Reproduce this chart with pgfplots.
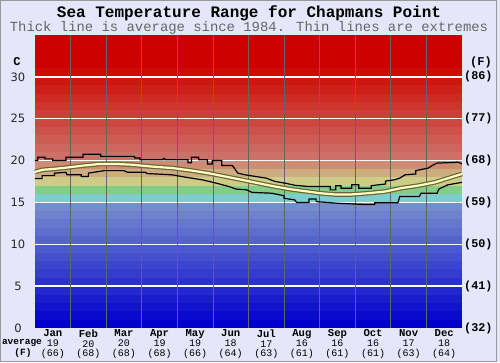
\documentclass[border=0pt]{standalone}
\usepackage{pgfplots}
\usepackage{pgfplotstable}
\pgfplotsset{compat=1.18}
\usepackage{fontspec}
\setmainfont{DejaVu Sans}
\newfontfamily\mono{Liberation Mono}
\definecolor{bgl}{RGB}{230,230,250}
\definecolor{avgedge}{RGB}{105,100,55}
\definecolor{avgfill}{RGB}{255,255,195}
\definecolor{monthln}{RGB}{100,100,100}

\pgfplotstableread{
x y
0 18.65
0.22 18.9
0.51 19.0
0.87 19.15
1.35 19.4
1.83 19.6
2.28 19.6
2.75 19.5
3.23 19.3
3.88 19.1
4.41 18.8
4.86 18.5
5.34 18.1
5.82 17.7
6.27 17.3
6.74 16.9
7.22 16.55
7.67 16.3
8.01 16.1
8.43 15.95
8.88 15.95
9.36 16.1
9.84 16.3
10.28 16.7
10.76 17.0
11.24 17.4
11.69 18.0
12 18.4
}\avgtable

\pgfplotstableread{
x y
0 20.0
0.08 20.0
0.08 20.4
0.28 20.4
0.28 20.2
0.5 20.2
0.5 20.0
0.87 20.0
0.87 20.4
1.35 20.4
1.35 20.75
1.85 20.75
1.85 20.5
2.8 20.5
2.8 20.3
2.95 20.3
2.95 20.1
3.6 20.1
3.6 20.25
3.65 20.25
3.65 20.1
4.3 20.1
4.3 19.75
4.4 19.75
4.4 20.4
4.6 20.4
4.6 20.1
4.85 20.1
4.85 19.6
4.98 19.6
4.98 20.0
5.25 20.0
5.25 19.4
5.55 19.4
5.7 18.5
5.9 18.3
6.2 18.1
6.5 17.9
6.75 17.5
7.03 17.3
7.3 17.05
7.7 16.9
8.3 16.9
8.3 16.5
8.45 16.5
8.45 17.0
8.6 17.0
8.6 16.7
8.9 16.7
8.9 17.1
9.1 17.1
9.1 16.7
9.45 16.7
9.45 17.0
9.85 17.2
9.85 17.55
10.1 17.7
10.25 17.9
10.4 18.3
10.7 18.4
10.7 18.8
11.05 19.1
11.2 19.5
11.3 19.7
11.9 19.8
12 19.6
}\maxtable

\pgfplotstableread{
x y
0 17.85
0.2 17.85
0.2 18.2
0.55 18.2
0.55 18.5
0.87 18.6
0.9 18.3
1.3 18.3
1.3 18.1
1.5 18.1
1.5 18.5
1.95 18.8
2.5 18.8
2.6 18.6
3.1 18.6
3.15 18.45
3.85 18.3
4.25 18.0
4.7 17.7
5.1 17.3
5.45 16.9
5.65 16.6
5.95 16.5
6.1 16.2
6.65 16.1
7.0 15.8
7.0 15.5
7.3 15.3
7.35 15.0
7.7 15.0
7.7 15.4
7.9 15.4
7.9 15.1
8.5 14.9
9.3 14.75
9.55 14.75
9.55 14.95
10.2 14.95
10.25 15.7
10.8 15.7
10.85 16.1
11.3 16.1
11.35 16.6
11.6 17.1
12 17.4
}\mintable

\newcommand{\ml}[3]{{\bfseries\fontsize{10.6}{9.7}\selectfont #1}\\#2\\(#3)}

\begin{document}
\begin{tikzpicture}[x=1pt,y=1pt]
\useasboundingbox (0,0) rectangle (500,362);
\fill[bgl] (0,0) rectangle (500,362);
\draw[gray!80,line width=0.8pt] (0.5,0.5) rectangle (496,361.5);
% colour bands, one per degree
\foreach \i in {0,...,34}{%
  \ifnum\i<15
    \pgfmathtruncatemacro{\rr}{8.5*\i}%
    \pgfmathtruncatemacro{\gg}{10*\i}%
    \pgfmathtruncatemacro{\bb}{205}%
  \else\ifnum\i=15
    \def\rr{125}\def\gg{205}\def\bb{205}%
  \else\ifnum\i=16
    \def\rr{130}\def\gg{205}\def\bb{135}%
  \else\ifnum\i=17
    \def\rr{205}\def\gg{205}\def\bb{135}%
  \else\ifnum\i=18
    \def\rr{205}\def\gg{172}\def\bb{128}%
  \else\ifnum\i=19
    \def\rr{205}\def\gg{140}\def\bb{115}%
  \else
    \pgfmathtruncatemacro{\rr}{205}%
    \pgfmathtruncatemacro{\gg}{max(0,112-10*(\i-20))}%
    \pgfmathtruncatemacro{\bb}{max(0,\gg-8)}%
  \fi\fi\fi\fi\fi\fi
  \definecolor{bandc}{RGB}{\rr,\gg,\bb}%
  \fill[bandc] (35,{34+\i*293/35}) rectangle (462,{34+(\i+1)*293/35+0.3});
}
% white grid lines
\foreach \v in {5,10,...,30}{
  \draw[white,line width=1.4pt] (35,{34+\v*293/35}) -- (462,{34+\v*293/35});
}
% month separators
\foreach \m in {1,...,11}{
  \draw[monthln,line width=0.7pt] ({35+\m*427/12},34) -- ({35+\m*427/12},327);
}
\begin{axis}[at={(35pt,34pt)}, anchor=south west, scale only axis,
  width=427pt, height=293pt, xmin=0, xmax=12, ymin=0, ymax=35,
  axis line style={draw=none}, major tick length=0pt, clip=false,
  ytick={0,5,...,30},
  /pgf/number format/assume math mode=true,
  yticklabel style={anchor=center, xshift=-17pt, font=\fontsize{11.5}{12}\selectfont, text=black!85},
  xtick={0.5,1.5,...,11.5},
  xticklabels={\ml{Jan}{19}{66},\ml{Feb}{20}{68},\ml{Mar}{20}{68},\ml{Apr}{19}{68},\ml{May}{19}{66},\ml{Jun}{18}{64},\ml{Jul}{17}{63},\ml{Aug}{16}{61},\ml{Sep}{16}{61},\ml{Oct}{16}{61},\ml{Nov}{17}{63},\ml{Dec}{18}{64}},
  xticklabel style={anchor=north, align=center, inner sep=0pt, yshift=-1.5pt, font=\mono\fontsize{10}{9.7}\selectfont},
  no markers]
\addplot[avgedge, line width=4.6pt] table {\avgtable};
\addplot[avgfill, line width=2.2pt] table {\avgtable};
\addplot[black, line width=1.2pt] table {\maxtable};
\addplot[black, line width=1.2pt] table {\mintable};
\end{axis}
% titles
\node[font=\mono\bfseries\fontsize{16}{18}\selectfont] at (249,349) {Sea Temperature Range for Chapmans Point};
\node[font=\mono\fontsize{13.9}{15}\selectfont, text=black!60] at (249,334) {Thick line is average since 1984. Thin lines are extremes};
% unit labels
\node[font=\mono\bfseries\fontsize{12}{12}\selectfont] at (17,300) {C};
\node[font=\mono\bfseries\fontsize{12}{12}\selectfont] at (481,300) {(F)};
\foreach \v/\f in {0/32,5/41,10/50,15/59,20/68,25/77,30/86}{
  \node[anchor=west, inner sep=0pt, font=\mono\bfseries\fontsize{11.8}{12}\selectfont] at (464,{34+\v*293/35}) {(\f)};
}
\node[font=\mono\bfseries\fontsize{9.5}{10}\selectfont] at (22,19) {average};
\node[font=\mono\bfseries\fontsize{9.5}{10}\selectfont] at (23,9) {(F)};
\end{tikzpicture}
\end{document}
